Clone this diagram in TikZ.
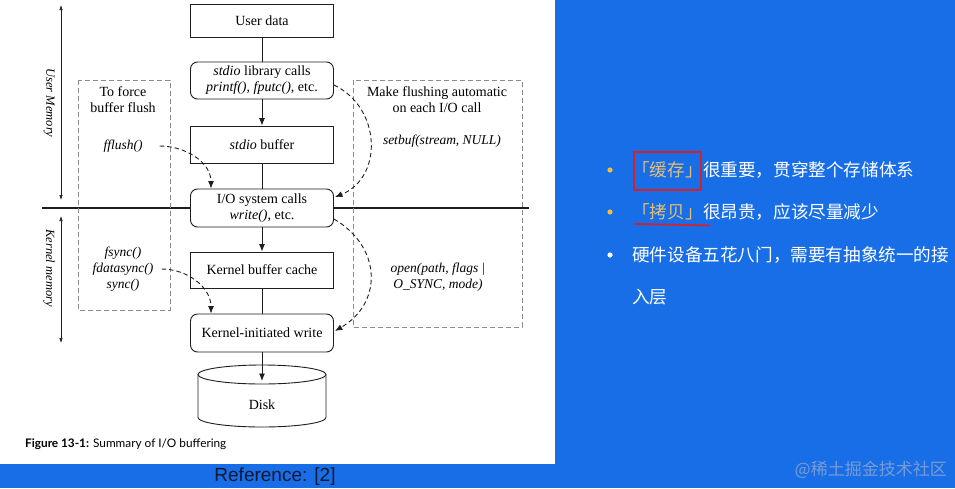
\documentclass[tikz,border=0pt]{standalone}
\usepackage{fontspec}
\setmainfont{Liberation Serif}
\newfontfamily\cjk{Noto Sans CJK SC}
\newfontfamily\capfont{Lato}
\newfontfamily\reffont{Liberation Sans}
\usetikzlibrary{arrows.meta,calc}
\definecolor{bgblue}{RGB}{24,110,230}
\definecolor{gold}{RGB}{228,190,120}
\definecolor{dotgold}{RGB}{240,190,60}
\definecolor{markred}{RGB}{214,32,42}
\definecolor{navy}{RGB}{16,24,48}
\definecolor{dashgray}{RGB}{140,140,140}
\definecolor{ink}{RGB}{30,30,30}
\definecolor{wmark}{RGB}{120,155,215}
\begin{document}
\begin{tikzpicture}[x=1pt,y=-1pt,
  box/.style={draw=ink, line width=0.9pt, fill=white, minimum width=143pt, inner sep=0pt, align=center, font=\fontsize{14}{16}\selectfont},
  rbox/.style={box, rounded corners=7pt},
  lbl/.style={align=center, inner sep=1pt, font=\fontsize{14}{16}\selectfont},
  code/.style={align=center, inner sep=1pt, font=\fontsize{13.5}{16}\selectfont\itshape},
  flow/.style={draw=ink, line width=0.9pt},
  tip/.style={-{Latex[length=7.5pt,width=6pt]}},
  dflow/.style={draw=ink, line width=0.9pt, dash pattern=on 4.5pt off 3pt, -{Latex[length=7.5pt,width=6pt]}},
  frame/.style={draw=dashgray, line width=0.8pt, dash pattern=on 5pt off 3pt},
  span/.style={draw=ink, line width=0.6pt, {Latex[length=5pt,width=3.5pt]}-{Latex[length=5pt,width=3.5pt]}},
  side/.style={font=\fontsize{12.5}{14}\selectfont\itshape, rotate=-90, inner sep=0pt},
  cjktxt/.style={font=\cjk\fontsize{17.6}{20}\selectfont, text=white, inner sep=0pt, anchor=west},
  dot/.style={circle, inner sep=0pt, minimum size=5.2pt},
]
\useasboundingbox (0,0) rectangle (955,488);
\fill[bgblue] (0,0) rectangle (955,488);
\fill[white] (0,0) rectangle (555,464);

% layer divider
\coordinate (hl) at (42,208);
\coordinate (hr) at (529,208);
\draw[ink, line width=1.8pt] (hl) -- (hr);

% dashed frames
\draw[frame] (78,80) rectangle (170,310);
\draw[frame] (353,80) rectangle (522,327);

% memory spans
\coordinate (um1) at (61,5);
\coordinate (um2) at (61,200);
\coordinate (km1) at (61,216);
\coordinate (km2) at (61,343);
\draw[span] (um1) -- (um2);
\draw[span] (km1) -- (km2);
\node[side] (uml) at (49,103) {User Memory};
\node[side] (kml) at (49,268) {Kernel memory};

% main column
\node[box, minimum height=33pt] (ud) at (262,20.5) {User data};
\node[rbox, minimum height=37pt] (lib) at (262,80.5) {\textit{stdio} library calls\\\textit{printf(), fputc()}, etc.};
\node[box, minimum height=37pt] (sbuf) at (262,144.5) {\textit{stdio} buffer};
\node[rbox, minimum height=38pt] (io) at (262,208) {I/O system calls\\\textit{write()}, etc.};
\node[box, minimum height=36pt] (kbc) at (262,270) {Kernel buffer cache};
\node[rbox, minimum height=38pt] (kiw) at (262,333) {Kernel-initiated write};

% disk
\draw[ink, line width=0.9pt] (198,374.5) -- (198,417.5) arc[start angle=180, end angle=360, x radius=64pt, y radius=9.5pt] -- (326,374.5);
\draw[ink, line width=0.9pt] (262,374.5) ellipse [x radius=64pt, y radius=9.5pt];
\node[lbl] (disk) at (262,405) {Disk};
\coordinate (disktop) at (262,381);

\draw[flow] (ud) -- (lib);
\draw[flow,tip] (lib) -- (sbuf);
\draw[flow] (sbuf) -- (io);
\draw[flow,tip] (io) -- (kbc);
\draw[flow] (kbc) -- (kiw);
\draw[flow,tip] (kiw) -- (disktop);

% side texts
\node[lbl] (tf) at (123,100) {To force\\buffer flush};
\node[code] (ffl) at (123,146) {fflush()};
\node[code] (fs) at (123,269) {fsync()\\fdatasync()\\sync()};
\node[lbl] (mf) at (437,100) {Make flushing automatic\\on each I/O call};
\node[code] (sb) at (442,141) {setbuf(stream, NULL)};
\node[code] (op) at (438,277) {open(path, flags |\\O\_SYNC, mode)};

% dashed arrows
\draw[dflow] ($(ffl.east)+(16,0)$) to[out=0,in=90] ($(io.north)+(-51,0)$);
\draw[dflow] ($(fs.east)+(7,0)$) to[out=0,in=90] ($(kiw.north)+(-51,0)$);
\draw[dflow] ($(lib.east)+(0,4.5)$) .. controls +(48,23) and +(48,-19) .. ($(io.east)+(1,-11)$);
\draw[dflow] ($(io.east)+(0,11)$) .. controls +(48,28) and +(48,-28) .. ($(kiw.east)+(1,-2)$);

% caption and reference
\node[anchor=west, inner sep=0pt, font=\capfont\fontsize{11.8}{13}\selectfont] (cap) at (25,444) {\textbf{Figure 13-1:} Summary of I/O buffering};
\node[font=\reffont\fontsize{19}{20}\selectfont, text=navy, inner sep=0pt] (ref) at (275,476.5) {Reference: [2]};

% right panel
\node[dot, fill=dotgold] (d1) at (610,170) {};
\node[dot, fill=dotgold] (d2) at (610,212) {};
\node[dot, fill=white] (d3) at (610,255) {};
\node[cjktxt, text=gold] (k1) at (632,170) {「缓存」};
\node[cjktxt] (t1) at (k1.east) {很重要，贯穿整个存储体系};
\node[cjktxt, text=gold] (k2) at (632,212) {「拷贝」};
\node[cjktxt] (t2) at (k2.east) {很昂贵，应该尽量减少};
\node[cjktxt] (t3) at (632,255) {硬件设备五花八门，需要有抽象统一的接};
\node[cjktxt] (t4) at (632,297) {入层};
\draw[markred, line width=1.6pt] ($(k1.west)+(2,-18)$) rectangle ($(k1.east)+(-2,20)$);
\draw[markred, line width=1.8pt, line cap=round] ($(k2.west)+(3,12)$) -- ($(k2.east)+(7,13.5)$);
\node[font=\cjk\fontsize{17}{19}\selectfont, text=wmark, anchor=east, inner sep=0pt] (wm) at (947,470) {@稀土掘金技术社区};
\end{tikzpicture}
\end{document}
